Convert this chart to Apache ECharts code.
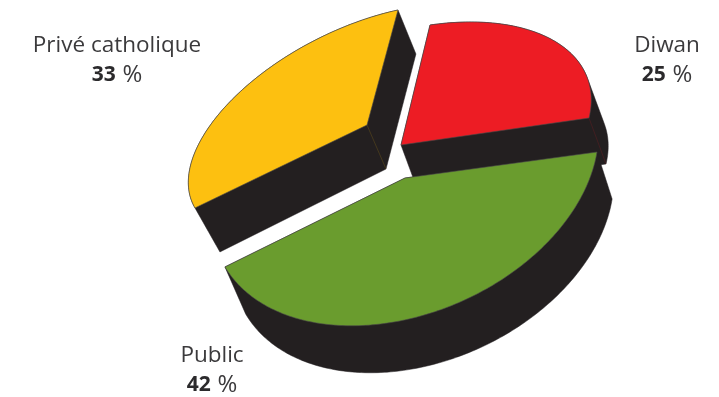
<!DOCTYPE html>
<html>
<head>
<meta charset="utf-8">
<style>
html,body{margin:0;padding:0;background:#fff}
#chart{width:719px;height:397px}
</style>
<script src="https://cdn.jsdelivr.net/npm/echarts@6/dist/echarts.min.js"></script>
</head>
<body>
<div id="chart"></div>
<script>
// School enrolment shares, listed in drawing order (back to front).
const categories = ['Privé catholique', 'Diwan', 'Public'];
const shares = [33, 25, 42];

// Presentation of each slice, kept apart from the values.
const sliceColors = ['#FDC010', '#ED1C24', '#6A9C2E'];
const sliceApex = [[367, 125], [401, 145], [405, 178]];
const arcCentreShift = [[-7, -3], [0, 0], [0, -3]];
// Screen vectors of the 0° and 90° radii for each slice; the pie is drawn in perspective.
const radiusA = [[38, -112], [29, -120], [24.5, -149]];
const radiusB = [[167.4, -36.5], [188, -27], [192, -23]];
const extrusion = [[19, 44], [17, 46], [18, 47]];
const floorScaleX = [0.9655, 1, 0.985];
const seamAt = ['apex', 'end', null];
const labelAnchor = [[117, 46], [667, 46], [212, 356]];
const WALL = '#231F20';

const total = shares.reduce((s, v) => s + v, 0);
const firstAngle = -360 * shares[0] / total;

function convexHull(points) {
  const pts = points.slice().sort((p, q) => p[0] - q[0] || p[1] - q[1]);
  const cross = (o, p, q) => (p[0] - o[0]) * (q[1] - o[1]) - (p[1] - o[1]) * (q[0] - o[0]);
  const half = list => {
    const out = [];
    list.forEach(p => {
      while (out.length > 1 && cross(out[out.length - 2], out[out.length - 1], p) <= 0) out.pop();
      out.push(p);
    });
    out.pop();
    return out;
  };
  return half(pts).concat(half(pts.slice().reverse()));
}

function renderSlice(params, api) {
  const i = params.dataIndex;
  const value = api.value(0);
  const before = shares.slice(0, i).reduce((s, v) => s + v, 0);
  const start = firstAngle + 360 * before / total;
  const sweep = 360 * value / total;
  const apex = sliceApex[i];
  const cx = apex[0] + arcCentreShift[i][0];
  const cy = apex[1] + arcCentreShift[i][1];
  const depth = extrusion[i];

  const rim = deg => {
    const t = deg * Math.PI / 180;
    return [
      cx + Math.cos(t) * radiusA[i][0] + Math.sin(t) * radiusB[i][0],
      cy + Math.cos(t) * radiusA[i][1] + Math.sin(t) * radiusB[i][1]
    ];
  };

  const outline = [apex];
  const steps = Math.ceil(sweep);
  for (let k = 0; k <= steps; k++) outline.push(rim(start + sweep * k / steps));

  const floor = outline.map(p => [
    apex[0] + (p[0] - apex[0]) * floorScaleX[i] + depth[0],
    p[1] + depth[1]
  ]);
  const children = [{
    type: 'polygon',
    shape: { points: convexHull(outline.concat(floor)) },
    style: { fill: WALL, stroke: WALL, lineWidth: 0.5 },
    silent: true
  }];

  // Faint seam where two side faces meet.
  if (seamAt[i]) {
    const p = seamAt[i] === 'apex' ? apex : outline[outline.length - 1];
    children.push({
      type: 'line',
      shape: { x1: p[0], y1: p[1], x2: p[0] + depth[0], y2: p[1] + depth[1] },
      style: { stroke: sliceColors[i], lineWidth: 0.5, opacity: 0.3 },
      silent: true
    });
  }

  // Top face.
  children.push({
    type: 'polygon',
    shape: { points: outline },
    style: { fill: sliceColors[i], stroke: '#4a4848', lineWidth: 0.6, lineJoin: 'round' }
  });

  // Caption: name above, bold share below.
  const a = labelAnchor[i];
  children.push({
    type: 'text',
    x: a[0],
    y: a[1],
    style: {
      text: categories[i],
      font: '22.5px "Open Sans"',
      fill: '#3b3a3c',
      align: 'center',
      verticalAlign: 'middle'
    }
  });
  children.push({
    type: 'text',
    x: a[0],
    y: a[1] + 29.5,
    style: {
      text: '{b|' + value + '}  {p|%}',
      rich: {
        b: { font: 'bold 21px "Noto Sans"', fill: '#2b2a2c', lineHeight: 22 },
        p: { font: '24px "Open Sans"', fill: '#3b3a3c', lineHeight: 22 }
      },
      align: 'center',
      verticalAlign: 'middle'
    }
  });

  return { type: 'group', children };
}

const chart = echarts.init(document.getElementById('chart'));
chart.setOption({
  animation: false,
  backgroundColor: '#fff',
  series: [{
    type: 'custom',
    coordinateSystem: 'none',
    renderItem: renderSlice,
    data: shares.map((v, i) => ({ name: categories[i], value: [v] }))
  }]
});
</script>
</body>
</html>
